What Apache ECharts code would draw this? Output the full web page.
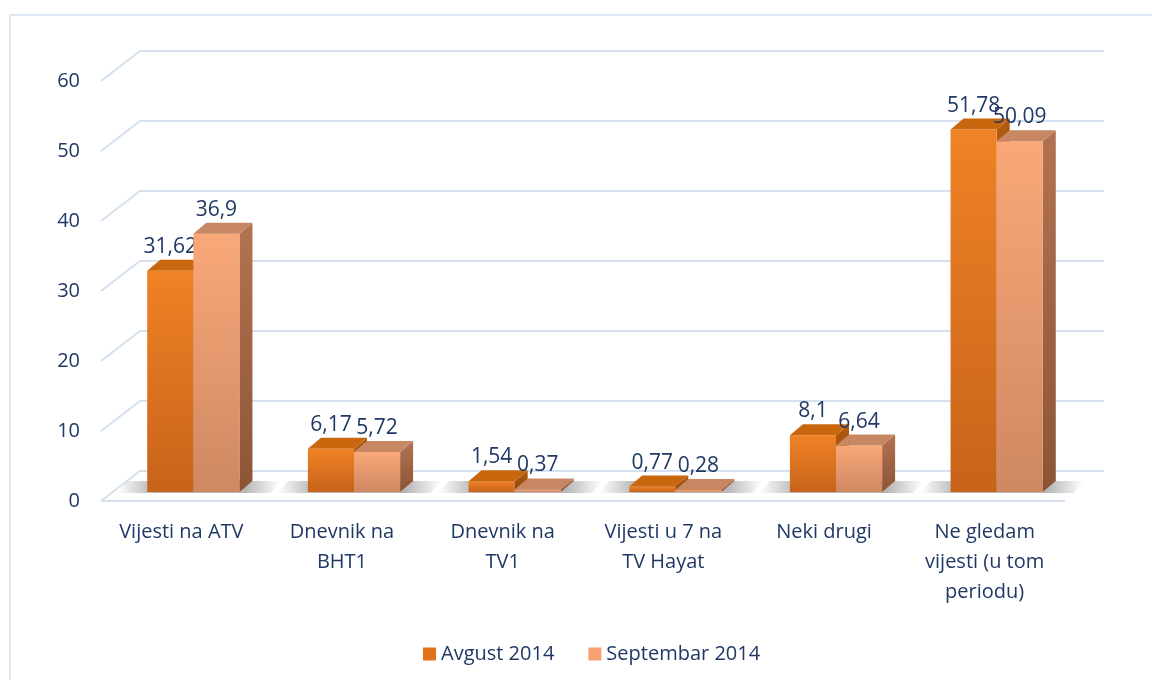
<!DOCTYPE html>
<html>
<head>
<meta charset="utf-8">
<script src="https://cdn.jsdelivr.net/npm/echarts@6/dist/echarts.min.js"></script>
<style>
    html, body { margin: 0; padding: 0; background: #fff; }
    #main { width: 1152px; height: 680px; }
</style>
</head>
<body>
<div id="main"></div>
<script>
var categories = ['Vijesti na ATV', 'Dnevnik na\nBHT1', 'Dnevnik na\nTV1', 'Vijesti u 7 na\nTV Hayat', 'Neki drugi', 'Ne gledam\nvijesti (u tom\nperiodu)'];
var avgust = [31.62, 6.17, 1.54, 0.77, 8.1, 51.78];
var septembar = [36.9, 5.72, 0.37, 0.28, 6.64, 50.09];
var yTicks = [0, 10, 20, 30, 40, 50, 60];

var textColor = '#1f3864';
var gridColor = '#d5e1f0';
var font = 'Open Sans';

// 3d dubina zidova i stupaca
var wallDx = 39, wallDy = -30;
var barOx = 12, barOy = -9, barDx = 13, barDy = -11;
var barRatio = 0.287;

function fmt(v) {
    return String(v).replace('.', ',');
}

function grad(c1, c2) {
    return new echarts.graphic.LinearGradient(0, 0, 0, 1, [
        { offset: 0, color: c1 },
        { offset: 1, color: c2 }
    ]);
}

/* zidovi i linije mreze */
function gridRender(params, api) {
    var v = api.value(1);
    var p = api.coord([0, v]);
    var band = api.size([1, 0])[0];
    var xl = p[0] - band / 2;
    var xr = xl + band * categories.length;
    var y = p[1];
    var children = [{
        type: 'polyline',
        shape: { points: [[xl, y], [xl + wallDx, y + wallDy], [xr + wallDx, y + wallDy]] },
        style: { stroke: gridColor, lineWidth: 2, fill: null }
    }];
    if (v === 0) {
        children.push({
            type: 'line',
            shape: { x1: xl, y1: y, x2: xr, y2: y },
            style: { stroke: gridColor, lineWidth: 2 }
        });
    }
    return { type: 'group', children: children };
}

/* sjena ispod stupaca */
function shadowRender(params, api) {
    var idx = api.value(0);
    var p = api.coord([idx, 0]);
    var band = api.size([1, 0])[0];
    var w = band * barRatio;
    var x0 = p[0] + barOx - w - 30;
    var x1 = p[0] + barOx + w + barDx + 28;
    var yb = p[1] + barOy;
    return {
        type: 'polygon',
        shape: { points: [[x0, yb + 1], [x1 - 10, yb + 1], [x1, yb + barDy], [x0 + 10, yb + barDy]] },
        style: {
            fill: new echarts.graphic.LinearGradient(0, 0, 1, 0, [
                { offset: 0, color: 'rgba(110,110,110,0)' },
                { offset: 0.22, color: 'rgba(110,110,110,0.5)' },
                { offset: 0.78, color: 'rgba(110,110,110,0.5)' },
                { offset: 1, color: 'rgba(110,110,110,0)' }
            ])
        }
    };
}

function barRender(side, colors) {
    return function (params, api) {
        var idx = api.value(0);
        var val = api.value(1);
        var base = api.coord([idx, 0]);
        var top = api.coord([idx, val]);
        var band = api.size([1, 0])[0];
        var w = band * barRatio;
        var x0 = base[0] + barOx + (side < 0 ? -w : 0);
        var x1 = x0 + w;
        var yb = base[1] + barOy;
        var yt = top[1] + barOy;
        return {
            type: 'group',
            children: [{
                type: 'polygon',
                shape: { points: [[x1, yt], [x1 + barDx, yt + barDy], [x1 + barDx, yb + barDy], [x1, yb]] },
                style: { fill: grad(colors.side[0], colors.side[1]) }
            }, {
                type: 'rect',
                shape: { x: x0, y: yt, width: w, height: yb - yt },
                style: { fill: grad(colors.front[0], colors.front[1]) }
            }, {
                type: 'polygon',
                shape: { points: [[x0, yt], [x1, yt], [x1 + barDx, yt + barDy], [x0 + barDx, yt + barDy]] },
                style: { fill: colors.top }
            }, {
                type: 'text',
                z2: 10,
                style: {
                    text: fmt(val),
                    x: (x0 + x1) / 2,
                    y: yt - 24,
                    align: 'center',
                    verticalAlign: 'middle',
                    fill: textColor,
                    font: '500 21px "' + font + '"'
                }
            }]
        };
    };
}

var augColors = { front: ['#f08226', '#c8631a'], top: '#c9670f', side: ['#b25a10', '#8e470c'] };
var sepColors = { front: ['#f9a878', '#cf8862'], top: '#c88763', side: ['#b27352', '#8c5436'] };

var myChart = echarts.init(document.getElementById('main'));
var option = {
    animation: false,
    backgroundColor: '#fff',
    graphic: [{
        type: 'rect',
        shape: { x: 10, y: 15, width: 1200, height: 700 },
        style: { fill: null, stroke: '#dde7f3', lineWidth: 2 }
    }],
    grid: { left: 101, right: 87, top: 81, bottom: 179 },
    legend: {
        data: ['Avgust 2014', 'Septembar 2014'],
        top: 639,
        left: 418,
        icon: 'rect',
        itemWidth: 13,
        itemHeight: 13,
        itemGap: 34,
        textStyle: { color: textColor, fontSize: 20, fontWeight: 500, fontFamily: font }
    },
    xAxis: {
        type: 'category',
        data: categories,
        axisLine: { show: false },
        axisTick: { show: false },
        splitLine: { show: false },
        axisLabel: {
            interval: 0,
            margin: 16,
            color: textColor,
            fontSize: 20,
            fontWeight: 500,
            lineHeight: 30,
            fontFamily: font
        }
    },
    yAxis: {
        type: 'value',
        min: 0,
        max: 60,
        interval: 10,
        axisLine: { show: false },
        axisTick: { show: false },
        splitLine: { show: false },
        axisLabel: { margin: 21, color: textColor, fontSize: 20, fontWeight: 500, fontFamily: font }
    },
    series: [{
        name: 'grid',
        type: 'custom',
        renderItem: gridRender,
        silent: true,
        z: 1,
        data: yTicks.map(function (v) { return [0, v]; })
    }, {
        name: 'shadow',
        type: 'custom',
        renderItem: shadowRender,
        silent: true,
        z: 2,
        data: categories.map(function (c, i) { return [i, 0]; })
    }, {
        name: 'Avgust 2014',
        type: 'custom',
        renderItem: barRender(-1, augColors),
        itemStyle: { color: '#e3701a' },
        z: 3,
        data: avgust.map(function (v, i) { return [i, v]; })
    }, {
        name: 'Septembar 2014',
        type: 'custom',
        renderItem: barRender(1, sepColors),
        itemStyle: { color: '#f7a071' },
        z: 4,
        data: septembar.map(function (v, i) { return [i, v]; })
    }]
};
myChart.setOption(option);
</script>
</body>
</html>
